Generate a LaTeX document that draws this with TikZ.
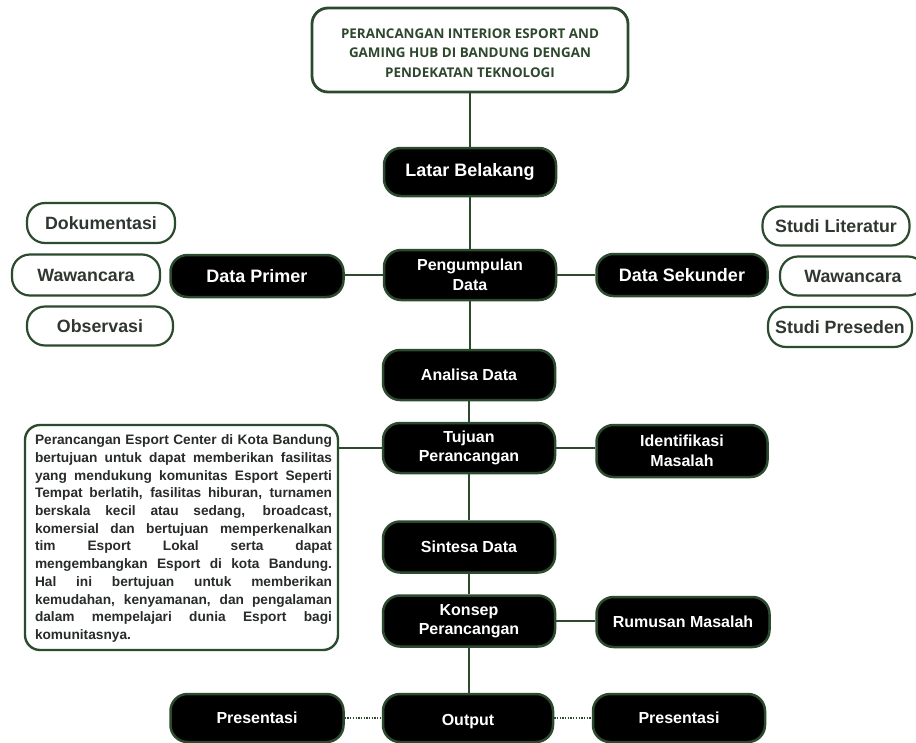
\documentclass[tikz,border=0pt]{standalone}
\usepackage{fontspec}
\setmainfont{Liberation Sans}
\newfontfamily\titlefont{Open Sans}
\definecolor{dkgreen}{RGB}{44,74,46}
\definecolor{titlegreen}{RGB}{46,72,46}
\definecolor{outtext}{RGB}{48,54,48}
\definecolor{bodytext}{RGB}{40,44,40}
\begin{document}
\begin{tikzpicture}[x=1pt,y=-1pt,
  blackbox/.style={rectangle, rounded corners=17pt, fill=black, draw=dkgreen, line width=2.5pt,
    text=white, font=\bfseries\fontsize{16}{19.5}\selectfont, align=center, inner sep=0pt},
  pillbox/.style={rectangle, rounded corners=18pt, fill=white, draw=dkgreen, line width=2.2pt,
    text=outtext, font=\bfseries\fontsize{17.8}{20}\selectfont, align=center, inner sep=0pt},
  framebox/.style={rectangle, fill=white, draw=dkgreen, inner sep=0pt},
  plaintext/.style={inner sep=0pt},
  conn/.style={draw=dkgreen, line width=2.6pt},
  dotconn/.style={draw=dkgreen, line width=2.4pt, dash pattern=on 1.3pt off 1.4pt}
]
\useasboundingbox (0,0) rectangle (916,742);
\fill[white] (0,0) rectangle (916,742);

% title
\node[framebox, rounded corners=16pt, line width=2.8pt,
  minimum width=316pt, minimum height=84pt] (title) at (470,50) {};
\node[plaintext, align=center, text=titlegreen,
  font=\titlefont\bfseries\fontsize{13.4}{19.6}\selectfont, yshift=-3pt] (titletext) at (title.center)
  {PERANCANGAN INTERIOR ESPORT AND\\GAMING HUB DI BANDUNG DENGAN\\PENDEKATAN TEKNOLOGI};

% main column
\node[blackbox, minimum width=172pt, minimum height=48pt, font=\bfseries\fontsize{18}{20}\selectfont] (latar) at (470,172) {Latar Belakang};
\node[blackbox, minimum width=172pt, minimum height=50pt] (peng) at (470,275) {Pengumpulan\\Data};
\node[blackbox, minimum width=172pt, minimum height=50pt] (analisa) at (469,375) {Analisa Data};
\node[blackbox, minimum width=172pt, minimum height=50pt] (tujuan) at (469,448) {Tujuan\\Perancangan};
\node[blackbox, minimum width=172pt, minimum height=51pt] (sintesa) at (469,547) {Sintesa Data};
\node[blackbox, minimum width=172pt, minimum height=51pt] (konsep) at (469,621) {Konsep\\Perancangan};
\node[blackbox, minimum width=170pt, minimum height=48pt, text height=19pt, text depth=3.5pt] (output) at (468,718) {Output};

% side boxes
\node[blackbox, minimum width=173pt, minimum height=42pt, font=\bfseries\fontsize{18}{20}\selectfont] (primer) at (257,276) {Data Primer};
\node[blackbox, minimum width=171pt, minimum height=42pt, font=\bfseries\fontsize{18}{20}\selectfont] (sekunder) at (682,275) {Data Sekunder};
\node[blackbox, minimum width=171pt, minimum height=52pt] (ident) at (682,451) {Identifikasi\\Masalah};
\node[blackbox, minimum width=173pt, minimum height=50pt] (rumusan) at (683,622) {Rumusan Masalah};
\node[blackbox, minimum width=173pt, minimum height=48pt] (pres1) at (257,718) {Presentasi};
\node[blackbox, minimum width=172pt, minimum height=48pt] (pres2) at (679,718) {Presentasi};

% pills
\node[pillbox, minimum width=148pt, minimum height=40pt] (dok) at (101,223) {Dokumentasi};
\node[pillbox, minimum width=148pt, minimum height=41pt] (waw1) at (86,275) {Wawancara};
\node[pillbox, minimum width=146pt, minimum height=39pt] (obs) at (100,326) {Observasi};
\node[pillbox, minimum width=147pt, minimum height=39pt] (stlit) at (836,226) {Studi Literatur};
\node[pillbox, minimum width=146pt, minimum height=39pt] (waw2) at (853,276) {Wawancara};
\node[pillbox, minimum width=144pt, minimum height=40pt] (stpre) at (840,327) {Studi Preseden};

% text box
\node[framebox, rounded corners=15pt, line width=2.4pt,
  minimum width=313pt, minimum height=225pt] (desc) at (181.5,537.5) {};
\node[plaintext, align=left, text=bodytext,
  font=\bfseries\fontsize{13.7}{17.7}\selectfont, xshift=2pt, yshift=-1pt] (desctext) at (desc.center)
  {\makebox[297pt][s]{Perancangan Esport Center di Kota Bandung}\\
   \makebox[297pt][s]{bertujuan untuk dapat memberikan fasilitas}\\
   \makebox[297pt][s]{yang mendukung komunitas Esport Seperti}\\
   \makebox[297pt][s]{Tempat berlatih, fasilitas hiburan, turnamen}\\
   \makebox[297pt][s]{berskala kecil atau sedang, broadcast,}\\
   \makebox[297pt][s]{komersial dan bertujuan memperkenalkan}\\
   \makebox[297pt][s]{tim Esport Lokal serta dapat}\\
   \makebox[297pt][s]{mengembangkan Esport di kota Bandung.}\\
   \makebox[297pt][s]{Hal ini bertujuan untuk memberikan}\\
   \makebox[297pt][s]{kemudahan, kenyamanan, dan pengalaman}\\
   \makebox[297pt][s]{dalam mempelajari dunia Esport bagi}\\
   \makebox[297pt][l]{komunitasnya.}};

% connectors
\draw[conn] (title.south) -- (title.south |- latar.north);
\draw[conn] (latar.south) -- (latar.south |- peng.north);
\draw[conn] (peng.south) -- (peng.south |- analisa.north);
\draw[conn] (analisa.south) -- (analisa.south |- tujuan.north);
\draw[conn] (tujuan.south) -- (tujuan.south |- sintesa.north);
\draw[conn] (sintesa.south) -- (sintesa.south |- konsep.north);
\draw[conn] (konsep.south) -- (konsep.south |- output.north);
\draw[conn] (peng.west) -- (peng.west -| primer.east);
\draw[conn] (peng.east) -- (peng.east -| sekunder.west);
\draw[conn] (tujuan.west) -- (tujuan.west -| desc.east);
\draw[conn] (tujuan.east) -- (tujuan.east -| ident.west);
\draw[conn] (konsep.east) -- (konsep.east -| rumusan.west);
\draw[dotconn] (pres1.east) -- (output.west);
\draw[dotconn] (output.east) -- (pres2.west);
\end{tikzpicture}
\end{document}
